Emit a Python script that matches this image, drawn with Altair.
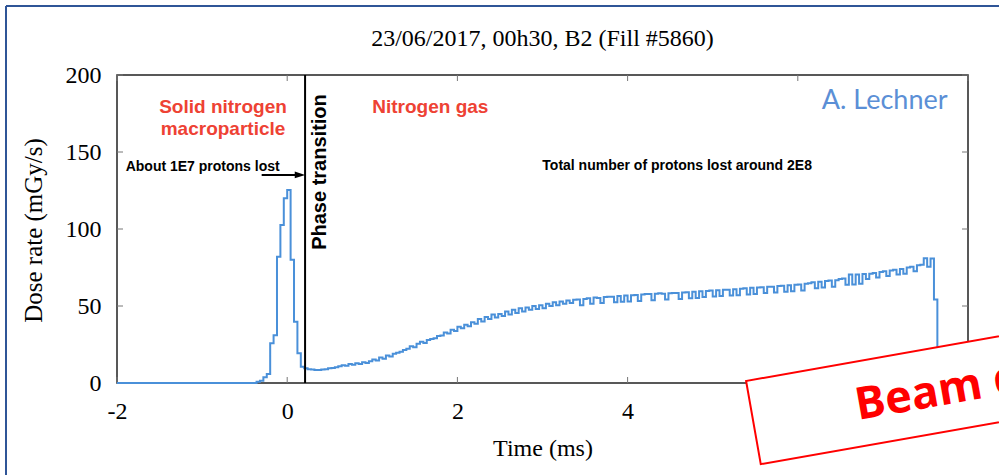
import altair as alt
import pandas as pd

# ---------------- data ----------------
T_START = -2.0          # ms, left end of the record
T_END = 8.0             # ms, right end of the record
BIN0 = -0.36            # ms, left edge of the first non-zero 40 us bin
BIN_W = 0.04            # ms, bin width

# macroparticle peak (bins from -0.36 ms to 0.20 ms)
PEAK_VALUES = [0.8, 1.5, 3.7, 5.9, 25.8, 31.0, 82.0, 102.6, 120.0, 125.3,
               80.0, 39.8, 19.3, 10.6]

# nitrogen gas phase (bins from 0.20 ms to 7.60 ms)
GAS_VALUES = [
    9.5, 9.0, 8.8, 8.5, 8.5, 8.8, 9.0, 9.5, 9.8, 10.2,
    10.8, 11.5, 11.2, 12.3, 11.8, 12.8, 12.4, 13.5, 13.0, 14.2,
    15.2, 14.6, 16.5, 15.8, 17.8, 17.2, 19.0, 19.6, 20.3, 21.5,
    22.3, 23.8, 23.2, 25.5, 26.8, 26.0, 28.0, 28.6, 29.0, 30.5,
    30.8, 32.8, 32.2, 34.5, 33.8, 36.5, 35.5, 37.8, 36.8, 39.5,
    38.5, 41.5, 40.0, 42.8, 41.5, 44.5, 42.5, 44.8, 43.5, 46.5,
    44.5, 47.5, 45.5, 48.5, 46.5, 49.0, 47.5, 50.0, 48.0, 50.5,
    48.5, 51.5, 50.0, 52.5, 50.5, 53.0, 51.5, 53.5, 52.0, 54.0,
    54.2, 50.5, 54.5, 55.0, 51.5, 55.5, 55.2, 52.0, 55.8, 56.0,
    56.0, 52.5, 56.5, 52.8, 56.8, 53.0, 57.0, 57.2, 53.2, 57.5,
    57.8, 57.8, 53.8, 58.0, 58.2, 58.0, 54.2, 58.3, 58.5, 58.4,
    54.5, 58.8, 59.0, 55.0, 59.2, 55.2, 59.5, 55.8, 59.8, 60.0,
    56.2, 60.2, 56.5, 60.5, 60.5, 56.8, 60.8, 57.0, 61.2, 61.5,
    57.5, 61.8, 57.8, 62.0, 62.2, 58.5, 62.5, 62.5, 58.8, 63.0,
    63.2, 59.2, 63.5, 59.5, 63.8, 64.0, 60.0, 64.5, 64.8, 65.5,
    61.5, 65.8, 62.0, 66.2, 66.5, 62.5, 66.8, 67.5, 67.8, 63.8,
    70.5, 64.0, 70.5, 64.5, 70.8, 67.5, 71.0, 71.5, 68.5, 72.0,
    72.5, 69.5, 73.0, 73.5, 70.5, 74.0, 71.0, 75.0, 75.5, 72.5,
    76.5, 76.8, 81.0, 75.5, 80.8,
]

# beam dumped
TAIL_VALUES = [54.2, 0.0]

X_TICKS = [-2, 0, 2, 4, 6, 8]
Y_TICKS = [0, 50, 100, 150, 200]
PHASE_T = 0.21

TITLE = "23/06/2017, 00h30, B2 (Fill #5860)"

# ---------------- layout ----------------
W, H = 851, 308
PAD = {"left": 117, "top": 75, "right": 31, "bottom": 92}
SERIF = "Liberation Serif"
SANS = "Liberation Sans"
RED_TXT = "#EE4234"
BLUE = "#4A90D9"

vals = PEAK_VALUES + GAS_VALUES + TAIL_VALUES
times = [T_START] + [round(BIN0 + BIN_W * i, 4) for i in range(len(vals))] + [T_END]
values = [0.0] + vals + [0.0]
df = pd.DataFrame({"t": times, "v": values})

X_ENC = alt.X(
    "t:Q",
    scale=alt.Scale(domain=[-2, 8], nice=False, zero=False),
    axis=alt.Axis(
        values=X_TICKS, tickSize=0, domain=False, grid=False,
        labelFont=SERIF, labelFontSize=24, labelColor="black",
        labelPadding=35, labelBaseline="alphabetic", labelFlush=False,
        labelOverlap=False, labelExpr="'' + datum.value",
        titleFont=SERIF, titleFontSize=24, titleFontWeight="normal",
        titleColor="black", titleX=425.5, titleY=72,
        titleBaseline="alphabetic", titleAlign="center",
    ),
    title="Time (ms)",
)
Y_ENC = alt.Y(
    "v:Q",
    scale=alt.Scale(domain=[0, 200], nice=False),
    axis=alt.Axis(
        values=Y_TICKS, tickSize=0, domain=False, grid=False,
        labelFont=SERIF, labelFontSize=24, labelColor="black",
        labelPadding=16, labelBaseline="middle", labelFlush=False,
        titleFont=SERIF, titleFontSize=25, titleFontWeight="normal",
        titleColor="black", titleX=-76, titleY=155, titleAngle=270,
        titleBaseline="alphabetic", titleAlign="center",
    ),
    title="Dose rate (mGy/s)",
)

one = pd.DataFrame({"a": [0]})

# inward ticks (gnuplot style), mirrored on all sides
xt = pd.DataFrame({"t": X_TICKS})
yt = pd.DataFrame({"v": Y_TICKS})
tick_b = alt.Chart(xt).mark_rule(color="#777", strokeWidth=1).encode(
    x=X_ENC, y=alt.value(H), y2=alt.value(H - 6))
tick_t = alt.Chart(xt).mark_rule(color="#777", strokeWidth=1).encode(
    x=X_ENC, y=alt.value(0), y2=alt.value(6))
tick_l = alt.Chart(yt).mark_rule(color="#777", strokeWidth=1).encode(
    y=Y_ENC, x=alt.value(0), x2=alt.value(6))
tick_r = alt.Chart(yt).mark_rule(color="#777", strokeWidth=1).encode(
    y=Y_ENC, x=alt.value(W), x2=alt.value(W - 6))

line = alt.Chart(df).mark_line(
    interpolate="step-after", color=BLUE, strokeWidth=2
).encode(x=X_ENC, y=Y_ENC)

phase = alt.Chart(pd.DataFrame({"t": [PHASE_T]})).mark_rule(
    color="black", strokeWidth=2).encode(x=X_ENC)

# annotations (data coordinates)
red_df = pd.DataFrame({
    "t": [-0.754, -0.754, 1.682],
    "v": [175.1, 161.0, 175.5],
    "label": ["Solid nitrogen", "macroparticle", "Nitrogen gas"],
})
red_txt = alt.Chart(red_df).mark_text(
    font=SANS, fontSize=19, fontWeight="bold", color=RED_TXT,
    align="center", baseline="alphabetic"
).encode(x=X_ENC, y=Y_ENC, text="label:N")

note_df = pd.DataFrame({
    "t": [-1.898, 2.998],
    "v": [137.8, 138.3],
    "label": ["About 1E7 protons lost", "Total number of protons lost around 2E8"],
})
note_txt = alt.Chart(note_df).mark_text(
    font=SANS, fontSize=14, fontWeight="bold", color="black",
    align="left", baseline="alphabetic"
).encode(x=X_ENC, y=Y_ENC, text="label:N")

phase_txt = alt.Chart(pd.DataFrame({"t": [0.456], "v": [137.0], "label": ["Phase transition"]})).mark_text(
    font=SANS, fontSize=20, fontWeight="bold", color="black",
    align="center", baseline="alphabetic", angle=270
).encode(x=X_ENC, y=Y_ENC, text="label:N")

author = alt.Chart(pd.DataFrame({"t": [7.76], "v": [177.9], "label": ["A. Lechner"]})).mark_text(
    font="Lato", fontSize=27, color="#5B8FD6", align="right", baseline="alphabetic"
).encode(x=X_ENC, y=Y_ENC, text="label:N")

arrow_df = pd.DataFrame({"t": [-0.30], "t2": [0.15], "v": [135.1]})
arrow_shaft = alt.Chart(arrow_df).mark_rule(color="black", strokeWidth=2).encode(
    x=X_ENC, x2=alt.X2("t2"), y=Y_ENC)
arrow_head = alt.Chart(pd.DataFrame({"t": [0.15], "v": [135.1]})).mark_point(
    shape="M1,0L-1,-0.65L-1,0.65Z", size=110, filled=True, color="black", opacity=1
).encode(x=X_ENC, y=Y_ENC)

title_txt = alt.Chart(one).mark_text(
    text=TITLE, font=SERIF, fontSize=24, color="black",
    align="center", baseline="alphabetic"
).encode(x=alt.value(W / 2), y=alt.value(-29.3))

# slide overlay: red rotated box with "Beam dump"
box = alt.Chart(one).mark_point(
    shape="M-1,-0.2347L1,-0.2347L1,0.2347L-1,0.2347Z", size=129600, angle=350,
    filled=True, fill="white", stroke="#FF0000", strokeWidth=2, opacity=1
).encode(x=alt.value(930.7 - 117), y=alt.value(391.3 - 75))
beam_txt = alt.Chart(one).mark_text(
    text="Beam dump", font="Open Sans", fontSize=45, fontWeight="bold",
    color="#FF0000", angle=350, align="left", baseline="alphabetic"
).encode(x=alt.value(858 - 117), y=alt.value(420 - 75))

# slide border (dark blue)
border_top = alt.Chart(one).mark_rule(color="#2F5597", strokeWidth=2).encode(
    x=alt.value(-111), x2=alt.value(900), y=alt.value(-69))
border_left = alt.Chart(one).mark_rule(color="#2F5597", strokeWidth=2).encode(
    x=alt.value(-111), y=alt.value(-69), y2=alt.value(420))

chart = alt.layer(
    tick_b, tick_t, tick_l, tick_r, line, phase,
    red_txt, note_txt, phase_txt, author, arrow_shaft, arrow_head,
    title_txt, box, beam_txt, border_top, border_left,
).properties(
    width=W, height=H, padding=PAD,
    autosize=alt.AutoSizeParams(type="none"),
    background="white",
).configure_view(stroke="#222222", strokeWidth=1.5)

chart.save("out.html", embed_options={"renderer": "svg", "actions": False})
